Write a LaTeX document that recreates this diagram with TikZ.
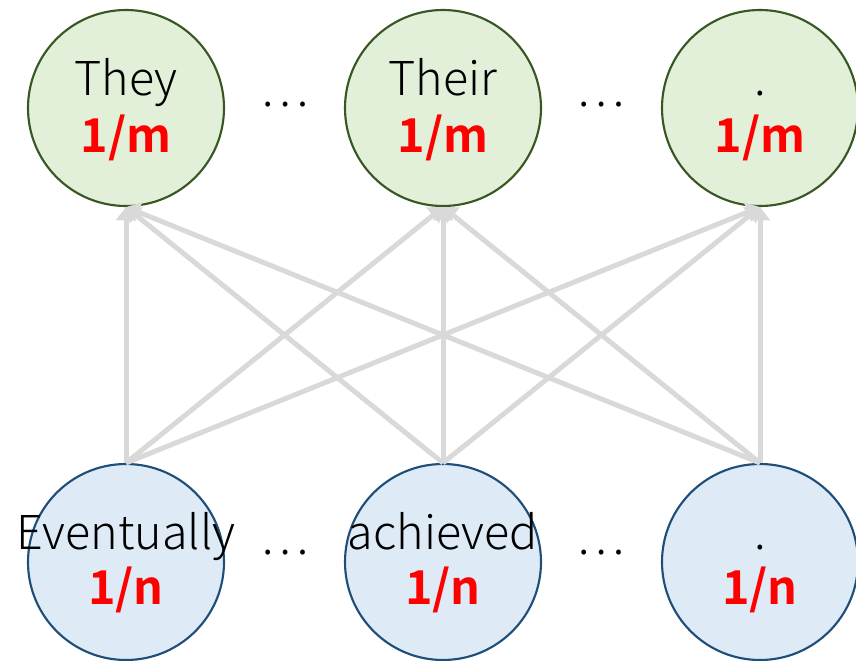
\documentclass[tikz,border=0pt]{standalone}
\usepackage{fontspec}
\setmainfont{Noto Sans CJK JP Light}[BoldFont={Noto Sans CJK JP Bold}]
\usetikzlibrary{arrows.meta}
\definecolor{topfill}{HTML}{E2F0D9}
\definecolor{topline}{HTML}{385723}
\definecolor{botfill}{HTML}{DEEBF7}
\definecolor{botline}{HTML}{1F4E79}
\definecolor{linkgray}{HTML}{D9D9D9}
\begin{document}
\begin{tikzpicture}[x=0.75pt,y=-0.75pt,line join=round,
  word/.style={font=\fontsize{35}{40}\selectfont,anchor=base,inner sep=0pt},
  prob/.style={font=\fontsize{35}{40}\selectfont\bfseries,text=red,anchor=base,inner sep=0pt},
  dots/.style={font=\fontsize{35}{40}\selectfont,inner sep=0pt},
  outnode/.style={circle,draw=topline,fill=topfill,line width=1.6pt,minimum size=147pt,inner sep=0pt},
  innode/.style={circle,draw=botline,fill=botfill,line width=1.6pt,minimum size=147pt,inner sep=0pt},
  link/.style={draw=linkgray,line width=3.75pt,-{Triangle[length=10pt,width=15pt]}}]
\useasboundingbox (0,0) rectangle (856,660);
\clip (0,0) rectangle (856,660);
% output words (top row)
\foreach \x/\w [count=\i from 1] in {126/They,443/Their,760/.}{
  \node[outnode] (t\i) at (\x,108) {};
  \node[word] (tw\i) at ([yshift=9.75pt]t\i.center) {\w};
  \node[prob] (tp\i) at ([yshift=-33pt]t\i.center) {1/m};
}
% input words (bottom row)
\foreach \x/\w [count=\i from 1] in {126/Eventually,443/achieved,760/.}{
  \node[innode] (b\i) at (\x,562) {};
  \node[word] (bw\i) at ([yshift=9.75pt]b\i.center) {\w};
  \node[prob] (bp\i) at ([yshift=-32pt]b\i.center) {1/n};
}
\node[dots] (d1) at (285,105) {…};
\node[dots] (d2) at (601,105) {…};
\node[dots] (d3) at (285,553) {…};
\node[dots] (d4) at (601,553) {…};
% every input points to every output
\foreach \i in {1,2,3}{
  \foreach \j in {1,2,3}{
    \draw[link] (b\i.north) -- (t\j.south);
  }
}
\end{tikzpicture}
\end{document}
